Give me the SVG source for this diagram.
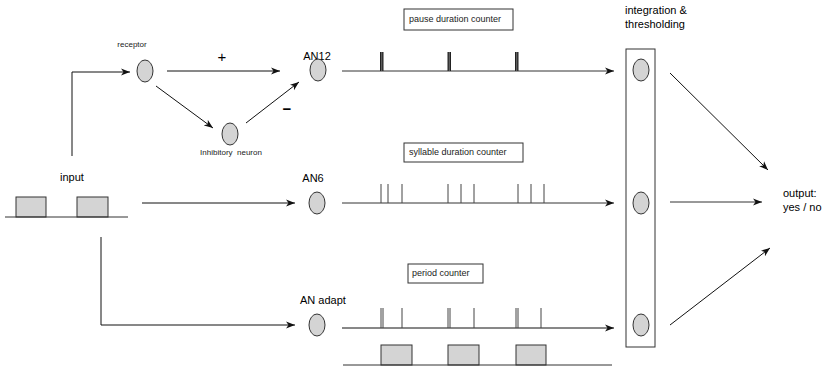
<svg xmlns="http://www.w3.org/2000/svg" width="828" height="368" viewBox="0 0 828 368">
  <defs>
    <marker id="arrow" markerWidth="10" markerHeight="8" refX="9" refY="4" orient="auto" markerUnits="userSpaceOnUse">
      <path d="M0,0.5 L9,4 L0,7.5 L2.5,4 Z" fill="#111"/>
    </marker>
    <style>
      .lbl { font-family: "Liberation Sans", Arial, sans-serif; font-size: 11px; fill: #000; }
      .small { font-family: "Liberation Sans", Arial, sans-serif; font-size: 8px; fill: #222; white-space: pre; }
      .tagtxt { font-family: "Liberation Sans", Arial, sans-serif; font-size: 9px; fill: #222; }
      .sign { font-family: "Liberation Sans", Arial, sans-serif; font-size: 15px; fill: #000; }
      .cell { fill: #d4d4d4; stroke: #333; stroke-width: 1; }
      .wire { fill: none; stroke: #111; stroke-width: 1; }
      .axis { fill: none; stroke: #333; stroke-width: 1; }
      .spike { stroke: #444; stroke-width: 1; }
      .pulse { fill: #d4d4d4; stroke: #333; stroke-width: 1; }
      .tag { fill: #fff; stroke: #333; stroke-width: 1; }
      .frame { fill: #fff; stroke: #333; stroke-width: 1; }
    </style>
  </defs>

  <!-- connectors -->
  <g id="connectors">
    <path class="wire" d="M72,156 V72 H130" marker-end="url(#arrow)"/>
    <path class="wire" d="M167,71 H280" marker-end="url(#arrow)"/>
    <path class="wire" d="M156,86 L213,128" marker-end="url(#arrow)"/>
    <path class="wire" d="M246,123 L299,82" marker-end="url(#arrow)"/>
    <path class="wire" d="M142,203 H295" marker-end="url(#arrow)"/>
    <path class="wire" d="M101,237 V325 H295" marker-end="url(#arrow)"/>
    <path class="axis" d="M342,71 H614" marker-end="url(#arrow)"/>
    <path class="axis" d="M342,203 H614" marker-end="url(#arrow)"/>
    <path class="wire" d="M342,328 H614" marker-end="url(#arrow)"/>
    <path class="wire" d="M670,73 L768,170" marker-end="url(#arrow)"/>
    <path class="axis" d="M670,202 H762" marker-end="url(#arrow)"/>
    <path class="wire" d="M670,325 L770,248" marker-end="url(#arrow)"/>
  </g>

  <!-- input stimulus -->
  <g id="input">
    <text class="lbl" x="72" y="181" text-anchor="middle">input</text>
    <rect class="pulse" x="16" y="197" width="30" height="20"/>
    <rect class="pulse" x="77" y="197" width="31" height="20"/>
    <line class="axis" x1="5" y1="217" x2="128" y2="217"/>
  </g>

  <!-- receptor -->
  <g id="receptor">
    <text class="small" x="132" y="47" text-anchor="middle">receptor</text>
    <ellipse class="cell" cx="145" cy="71" rx="8" ry="11"/>
  </g>

  <text class="sign" x="222" y="62" text-anchor="middle">+</text>
  <text class="sign" x="287" y="114" text-anchor="middle" font-weight="bold" font-size="17">−</text>

  <!-- inhibitory neuron -->
  <g id="inhibitory">
    <ellipse class="cell" cx="230" cy="134" rx="8" ry="11"/>
    <text class="small" x="231" y="155" text-anchor="middle" font-size="8.5" xml:space="preserve">Inhibitory  neuron</text>
  </g>

  <!-- AN12 -->
  <g id="an12">
    <text class="lbl" x="317" y="60" text-anchor="middle">AN12</text>
    <ellipse class="cell" cx="318" cy="70" rx="8" ry="11"/>
  </g>

  <!-- AN6 -->
  <g id="an6">
    <text class="lbl" x="313" y="182" text-anchor="middle">AN6</text>
    <ellipse class="cell" cx="317" cy="203" rx="8" ry="11"/>
  </g>

  <!-- AN adapt -->
  <g id="anadapt">
    <text class="lbl" x="300" y="304">AN adapt</text>
    <ellipse class="cell" cx="317" cy="325" rx="8" ry="11"/>
  </g>

  <!-- pause duration counter -->
  <g id="pause-counter">
    <rect class="tag" x="404" y="9" width="109" height="21"/>
    <text class="tagtxt" x="409" y="22">pause duration counter</text>
    <g fill="#222">
      <rect x="380" y="52" width="3.5" height="19"/>
      <rect x="447.5" y="52" width="3.5" height="19"/>
      <rect x="515" y="52" width="3.5" height="19"/>
    </g>
    <g fill="#777">
      <rect x="381.3" y="52" width="0.9" height="19"/>
      <rect x="448.8" y="52" width="0.9" height="19"/>
      <rect x="516.3" y="52" width="0.9" height="19"/>
    </g>
  </g>

  <!-- syllable duration counter -->
  <g id="syllable-counter">
    <rect class="tag" x="404" y="143" width="119" height="19"/>
    <text class="tagtxt" x="409" y="155">syllable duration counter</text>
    <g class="spike">
      <line x1="381" y1="184" x2="381" y2="203"/>
      <line x1="388" y1="184" x2="388" y2="203"/>
      <line x1="402" y1="184" x2="402" y2="203"/>
      <line x1="448" y1="184" x2="448" y2="203"/>
      <line x1="461" y1="184" x2="461" y2="203"/>
      <line x1="474" y1="184" x2="474" y2="203"/>
      <line x1="518" y1="184" x2="518" y2="203"/>
      <line x1="531" y1="184" x2="531" y2="203"/>
      <line x1="544" y1="184" x2="544" y2="203"/>
    </g>
  </g>

  <!-- period counter -->
  <g id="period-counter">
    <rect class="tag" x="408" y="264" width="75" height="19"/>
    <text class="tagtxt" x="412" y="276">period counter</text>
    <g class="spike">
      <line x1="381" y1="308" x2="381" y2="328"/>
      <line x1="383" y1="308" x2="383" y2="328"/>
      <line x1="402" y1="308" x2="402" y2="328"/>
      <line x1="448" y1="308" x2="448" y2="328"/>
      <line x1="450" y1="308" x2="450" y2="328"/>
      <line x1="474" y1="308" x2="474" y2="328"/>
      <line x1="516" y1="308" x2="516" y2="328"/>
      <line x1="518" y1="308" x2="518" y2="328"/>
      <line x1="541" y1="308" x2="541" y2="328"/>
    </g>
    <rect class="pulse" x="381" y="345" width="31" height="20"/>
    <rect class="pulse" x="448" y="345" width="31" height="20"/>
    <rect class="pulse" x="516" y="345" width="30" height="20"/>
    <line class="axis" x1="343" y1="365" x2="612" y2="365"/>
  </g>

  <!-- integration & thresholding stage -->
  <g id="integration">
    <text class="lbl" x="625" y="14">integration &amp;</text>
    <text class="lbl" x="625" y="28">thresholding</text>
    <rect class="frame" x="626" y="49" width="29" height="298"/>
    <ellipse class="cell" cx="641" cy="70" rx="8" ry="11"/>
    <ellipse class="cell" cx="641" cy="203" rx="8" ry="11"/>
    <ellipse class="cell" cx="641" cy="325" rx="8" ry="11"/>
  </g>

  <!-- output -->
  <g id="output">
    <text class="lbl" x="783" y="197">output:</text>
    <text class="lbl" x="783" y="211">yes / no</text>
  </g>
</svg>
